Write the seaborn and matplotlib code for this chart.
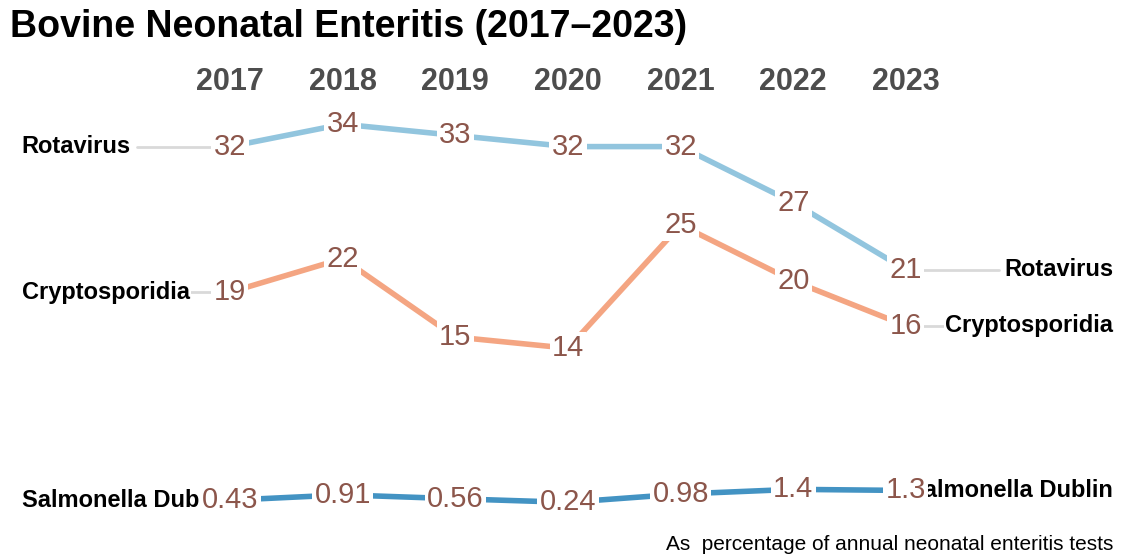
import numpy as np
import pandas as pd
import seaborn as sns
from matplotlib import pyplot as plt

years = [2017, 2018, 2019, 2020, 2021, 2022, 2023]
pathogens = ["Rotavirus", "Cryptosporidia", "Salmonella Dublin"]
rotavirus = [32, 34, 33, 32, 32, 27, 21]
cryptosporidia = [19, 22, 15, 14, 25, 20, 16]
salmonella_dublin = [0.43, 0.91, 0.56, 0.24, 0.98, 1.4, 1.3]
value_labels = {
    "Rotavirus": ["32", "34", "33", "32", "32", "27", "21"],
    "Cryptosporidia": ["19", "22", "15", "14", "25", "20", "16"],
    "Salmonella Dublin": ["0.43", "0.91", "0.56", "0.24", "0.98", "1.4", "1.3"],
}
line_colors = {
    "Rotavirus": "#92c5de",
    "Cryptosporidia": "#f4a582",
    "Salmonella Dublin": "#4393c3",
}

df = pd.DataFrame({
    "year": years * 3,
    "pathogen": np.repeat(pathogens, len(years)),
    "value": rotavirus + cryptosporidia + salmonella_dublin,
})

sns.set_theme(style="white")
plt.rcParams["font.family"] = ["Liberation Sans", "DejaVu Sans"]

fig = plt.figure(figsize=(11.33, 5.58), dpi=100)
ax = fig.add_axes([0, 0, 1, 1 - 100 / 558])

sns.lineplot(
    data=df, x="year", y="value", hue="pathogen",
    palette=line_colors, linewidth=4, legend=False, ax=ax, zorder=2
)

# connectors and row labels on both sides
for name in pathogens:
    sub = df[df["pathogen"] == name]
    first, last = sub["value"].iloc[0], sub["value"].iloc[-1]
    ax.plot([2016.175, 2017], [first, first], color="#d9d9d9", lw=2, zorder=1)
    ax.plot([2023, 2023.83], [last, last], color="#d9d9d9", lw=2, zorder=1)
    box = dict(boxstyle="square,pad=0.05", fc="white", ec="none")
    ax.text(2015.15, first, name, ha="left", va="center", fontsize=17,
            fontweight="bold", color="black", bbox=box, zorder=3)
    ax.text(2024.84, last, name, ha="right", va="center", fontsize=17,
            fontweight="bold", color="black", bbox=box, zorder=3)
    for x, y, lab in zip(sub["year"], sub["value"], value_labels[name]):
        ax.text(x, y, lab, ha="center", va="center", fontsize=21,
                color="#8c564b", zorder=5,
                bbox=dict(boxstyle="square,pad=0.08", fc="white", ec="none"))

ax.set_xlim(2014.959, 2025.015)
ax.set_ylim(-4.73, 36.16)
ax.xaxis.tick_top()
ax.set_xticks(years)
ax.set_xticklabels([str(y) for y in years], fontsize=22, fontweight="bold",
                   color="#4d4d4d")
ax.tick_params(axis="x", length=0, pad=2.5)
ax.set_yticks([])
ax.set_xlabel("")
ax.set_ylabel("")
sns.despine(ax=ax, left=True, bottom=True, top=True, right=True)

fig.text(10 / 1133, 1 - 27 / 558, "Bovine Neonatal Enteritis (2017\u20132023)",
         ha="left", va="center", fontsize=27, fontweight="bold", color="black")
fig.text(1113 / 1133, 1 - 545 / 558, "As  percentage of annual neonatal enteritis tests",
         ha="right", va="center", fontsize=15, color="black")

fig.savefig("out.png", dpi=100)
